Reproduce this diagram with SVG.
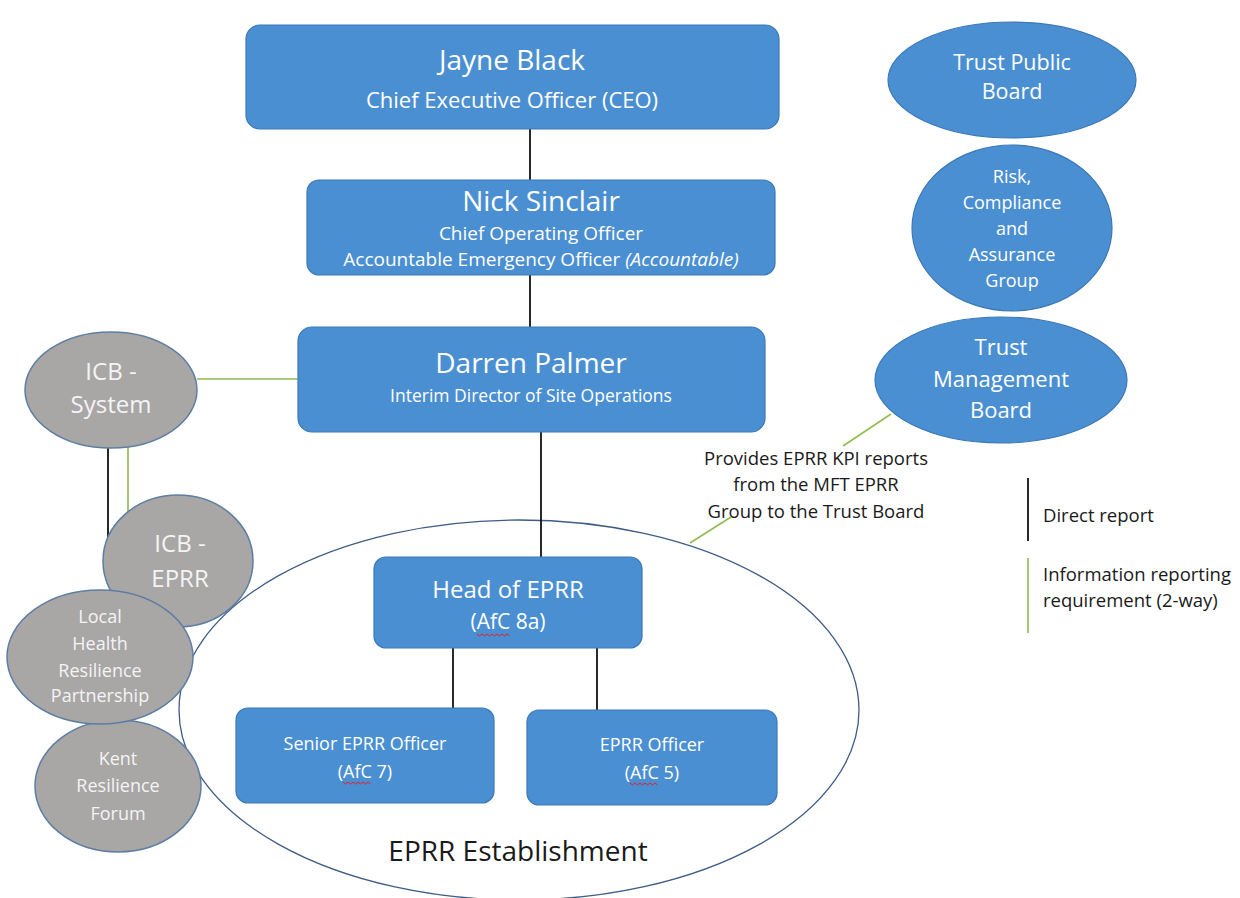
<svg xmlns="http://www.w3.org/2000/svg" width="1240" height="898" viewBox="0 0 1240 898">
<style>
.box{fill:#4b8fd3;stroke:#3b78b8;stroke-width:1.2}
.oval{fill:#4b8fd3;stroke:#3b78b8;stroke-width:1.2}
.grey{fill:#a9a6a6;stroke:#5d7ea3;stroke-width:1.5}
.t{font-family:"Open Sans","Liberation Sans",sans-serif;fill:#ffffff;text-anchor:middle}
.tg{font-family:"Open Sans","Liberation Sans",sans-serif;fill:#f4f4f4;text-anchor:middle}
.tk{font-family:"Open Sans","Liberation Sans",sans-serif;fill:#1a1a1a}
.direct{stroke:#111111;stroke-width:1.8;fill:none}
.info{stroke:#8fbc4f;stroke-width:1.6;fill:none}
.sq{stroke:#e02020;stroke-width:1;fill:none}
</style>
<rect width="1240" height="898" fill="#ffffff"/>

<g id="eprr-establishment">
<ellipse cx="519" cy="710" rx="340" ry="190" fill="none" stroke="#3e5c86" stroke-width="1.3"/>
<text class="tk" x="518" y="861" font-size="28" text-anchor="middle">EPRR Establishment</text>
</g>

<g id="connectors">
<line class="direct" x1="530" y1="129" x2="530" y2="180"/>
<line class="direct" x1="530" y1="275" x2="530" y2="327"/>
<line class="direct" x1="541" y1="432" x2="541" y2="557"/>
<line class="direct" x1="453" y1="648" x2="453" y2="708"/>
<line class="direct" x1="597" y1="648" x2="597" y2="710"/>
<line class="info" x1="197" y1="379" x2="298" y2="379"/>
<line class="direct" x1="108" y1="447" x2="108" y2="540"/>
<line class="info" x1="128" y1="447" x2="128" y2="514"/>
<path class="info" d="M891 414 L843 446 M731 517 L690 543"/>
</g>

<g id="jayne-black">
<rect class="box" x="246" y="25" width="533" height="104" rx="14"/>
<text class="t" x="512" y="70" font-size="28">Jayne Black</text>
<text class="t" x="512" y="108" font-size="22">Chief Executive Officer (CEO)</text>
</g>

<g id="nick-sinclair">
<rect class="box" x="307" y="180" width="468" height="95" rx="12"/>
<text class="t" x="541" y="211" font-size="28">Nick Sinclair</text>
<text class="t" x="541" y="240" font-size="19">Chief Operating Officer</text>
<text class="t" x="541" y="266" font-size="19">Accountable Emergency Officer <tspan font-style="italic">(Accountable)</tspan></text>
</g>

<g id="darren-palmer">
<rect class="box" x="298" y="327" width="467" height="105" rx="14"/>
<text class="t" x="531" y="373" font-size="28">Darren Palmer</text>
<text class="t" x="531" y="402" font-size="17.5">Interim Director of Site Operations</text>
</g>

<g id="head-of-eprr">
<rect class="box" x="374" y="557" width="268" height="91" rx="12"/>
<text class="t" x="508" y="598" font-size="24">Head of EPRR</text>
<text class="t" x="508" y="629" font-size="21">(AfC 8a)</text>
<path class="sq" d="M477 634 l2.5 2 l2.5 -2 l2.5 2 l2.5 -2 l2.5 2 l2.5 -2 l2.5 2 l2.5 -2 l2.5 2 l2.5 -2 l2.5 2 l2.5 -2 l2.5 2"/>
</g>

<g id="senior-eprr-officer">
<rect class="box" x="236" y="708" width="258" height="95" rx="12"/>
<text class="t" x="365" y="750" font-size="18">Senior EPRR Officer</text>
<text class="t" x="365" y="778" font-size="18">(AfC 7)</text>
<path class="sq" d="M343 782 l2.5 2 l2.5 -2 l2.5 2 l2.5 -2 l2.5 2 l2.5 -2 l2.5 2 l2.5 -2 l2.5 2 l2.5 -2 l2.5 2"/>
</g>

<g id="eprr-officer">
<rect class="box" x="527" y="710" width="250" height="95" rx="12"/>
<text class="t" x="652" y="751" font-size="18">EPRR Officer</text>
<text class="t" x="652" y="779" font-size="18">(AfC 5)</text>
<path class="sq" d="M630 783 l2.5 2 l2.5 -2 l2.5 2 l2.5 -2 l2.5 2 l2.5 -2 l2.5 2 l2.5 -2 l2.5 2 l2.5 -2 l2.5 2"/>
</g>

<g id="icb-system">
<ellipse class="grey" cx="111" cy="390" rx="86" ry="58"/>
<text class="tg" x="111" y="380" font-size="24">ICB -</text>
<text class="tg" x="111" y="413" font-size="24">System</text>
</g>

<g id="icb-eprr">
<ellipse class="grey" cx="178" cy="561" rx="75" ry="66"/>
<text class="tg" x="180" y="552" font-size="24">ICB -</text>
<text class="tg" x="180" y="587" font-size="24">EPRR</text>
</g>

<g id="kent-resilience-forum">
<ellipse class="grey" cx="118" cy="786" rx="83" ry="66"/>
<text class="tg" x="118" y="765" font-size="18">Kent</text>
<text class="tg" x="118" y="792" font-size="18">Resilience</text>
<text class="tg" x="118" y="820" font-size="18">Forum</text>
</g>

<g id="local-health-resilience-partnership">
<ellipse class="grey" cx="100" cy="657" rx="93" ry="67"/>
<text class="tg" x="100" y="623" font-size="18">Local</text>
<text class="tg" x="100" y="650" font-size="18">Health</text>
<text class="tg" x="100" y="677" font-size="18">Resilience</text>
<text class="tg" x="100" y="702" font-size="18">Partnership</text>
</g>

<g id="trust-public-board">
<ellipse class="oval" cx="1012" cy="80" rx="124" ry="58"/>
<text class="t" x="1012" y="70" font-size="21.5">Trust Public</text>
<text class="t" x="1012" y="99" font-size="21.5">Board</text>
</g>

<g id="risk-compliance-assurance-group">
<ellipse class="oval" cx="1012" cy="228" rx="100" ry="83"/>
<text class="t" x="1012" y="183" font-size="18">Risk,</text>
<text class="t" x="1012" y="209" font-size="18">Compliance</text>
<text class="t" x="1012" y="235" font-size="18">and</text>
<text class="t" x="1012" y="261" font-size="18">Assurance</text>
<text class="t" x="1012" y="287" font-size="18">Group</text>
</g>

<g id="trust-management-board">
<ellipse class="oval" cx="1001" cy="380" rx="126" ry="63"/>
<text class="t" x="1001" y="355" font-size="22">Trust</text>
<text class="t" x="1001" y="387" font-size="22">Management</text>
<text class="t" x="1001" y="418" font-size="22">Board</text>
</g>

<g id="kpi-label">
<text class="tk" x="816" y="465" font-size="18.5" text-anchor="middle">Provides EPRR KPI reports</text>
<text class="tk" x="816" y="491" font-size="18.5" text-anchor="middle">from the MFT EPRR</text>
<text class="tk" x="816" y="518" font-size="18.5" text-anchor="middle">Group to the Trust Board</text>
</g>

<g id="legend">
<line class="direct" x1="1028" y1="478" x2="1028" y2="541"/>
<text class="tk" x="1043" y="522" font-size="18.5">Direct report</text>
<line class="info" x1="1028" y1="558" x2="1028" y2="633"/>
<text class="tk" x="1043" y="581" font-size="18.5">Information reporting</text>
<text class="tk" x="1043" y="607" font-size="18.5">requirement (2-way)</text>
</g>
</svg>
